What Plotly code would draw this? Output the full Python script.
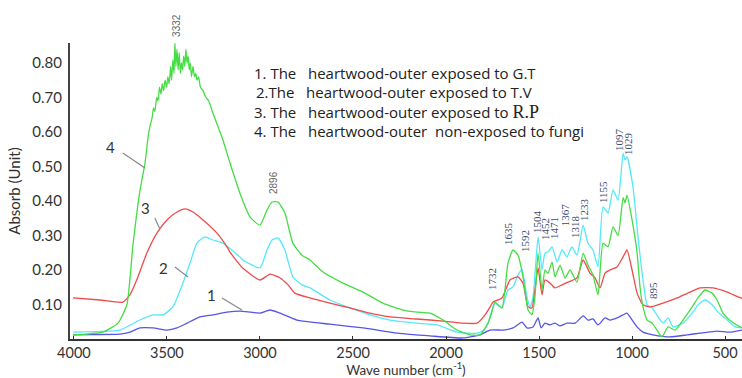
import plotly.graph_objects as go

# ---- data ----
wn_1 = [4005, 3900, 3753, 3699, 3645, 3575, 3500, 3446, 3392, 3323,
        3253, 3177, 3108, 3000, 2946, 2892, 2801, 2624, 2446, 2263,
        2086, 1909, 1817, 1763, 1694, 1640, 1591, 1565, 1532, 1505,
        1489, 1468, 1441, 1414, 1387, 1350, 1306, 1263, 1237, 1210,
        1183, 1145, 1118, 1081, 1048, 1027, 1011, 973, 941, 887,
        796, 704, 634, 543, 473, 409]
abs_1 = [0.012, 0.013, 0.014, 0.020, 0.032, 0.032, 0.026, 0.032, 0.046, 0.064,
         0.070, 0.078, 0.081, 0.075, 0.084, 0.075, 0.055, 0.043, 0.032, 0.017,
         0.009, 0.003, 0.012, 0.026, 0.026, 0.032, 0.049, 0.032, 0.035, 0.061,
         0.032, 0.046, 0.041, 0.046, 0.038, 0.046, 0.046, 0.067, 0.055, 0.058,
         0.041, 0.061, 0.055, 0.061, 0.070, 0.075, 0.064, 0.035, 0.020, 0.012,
         0.006, 0.012, 0.017, 0.023, 0.020, 0.026]

wn_2 = [4005, 3850, 3753, 3645, 3575, 3521, 3468, 3414, 3376, 3339,
        3296, 3253, 3199, 3161, 3108, 3091, 3000, 2962, 2935, 2903,
        2866, 2823, 2774, 2731, 2624, 2516, 2409, 2301, 2156, 2048,
        1941, 1833, 1800, 1775, 1755, 1737, 1699, 1667, 1640, 1613,
        1591, 1565, 1548, 1532, 1505, 1484, 1468, 1452, 1430, 1403,
        1376, 1350, 1323, 1296, 1263, 1237, 1210, 1183, 1156, 1129,
        1102, 1075, 1048, 1038, 1027, 995, 968, 941, 919, 892,
        860, 833, 806, 780, 726, 677, 645, 608, 570, 538,
        489, 446, 409]
abs_2 = [0.020, 0.022, 0.026, 0.055, 0.070, 0.070, 0.093, 0.162, 0.220, 0.278,
         0.296, 0.287, 0.278, 0.262, 0.238, 0.229, 0.206, 0.258, 0.287, 0.293,
         0.258, 0.180, 0.157, 0.148, 0.113, 0.090, 0.070, 0.055, 0.046, 0.041,
         0.020, 0.017, 0.025, 0.045, 0.080, 0.104, 0.090, 0.142, 0.151, 0.186,
         0.200, 0.122, 0.093, 0.122, 0.296, 0.200, 0.249, 0.252, 0.267, 0.223,
         0.258, 0.238, 0.267, 0.243, 0.330, 0.278, 0.258, 0.209, 0.383, 0.365,
         0.432, 0.403, 0.539, 0.519, 0.528, 0.441, 0.296, 0.171, 0.099, 0.090,
         0.064, 0.046, 0.061, 0.035, 0.046, 0.075, 0.099, 0.113, 0.099, 0.078,
         0.055, 0.035, 0.032]

wn_3 = [4005, 3860, 3737, 3699, 3656, 3608, 3554, 3500, 3446, 3403,
        3360, 3306, 3231, 3177, 3161, 3108, 3091, 3000, 2946, 2892,
        2849, 2812, 2731, 2624, 2516, 2409, 2301, 2156, 2016, 1909,
        1833, 1790, 1763, 1747, 1699, 1656, 1613, 1586, 1559, 1538,
        1522, 1505, 1484, 1468, 1441, 1414, 1376, 1344, 1296, 1263,
        1226, 1199, 1172, 1145, 1118, 1081, 1048, 1027, 1000, 973,
        941, 903, 833, 758, 688, 634, 565, 489, 430, 409]
abs_3 = [0.119, 0.113, 0.107, 0.128, 0.180, 0.249, 0.307, 0.345, 0.368, 0.377,
         0.368, 0.345, 0.307, 0.267, 0.252, 0.215, 0.205, 0.171, 0.188, 0.177,
         0.157, 0.133, 0.119, 0.104, 0.090, 0.075, 0.064, 0.058, 0.052, 0.046,
         0.046, 0.070, 0.093, 0.107, 0.119, 0.171, 0.180, 0.162, 0.093, 0.090,
         0.142, 0.206, 0.128, 0.171, 0.162, 0.148, 0.157, 0.165, 0.177, 0.229,
         0.191, 0.177, 0.148, 0.191, 0.200, 0.209, 0.238, 0.258, 0.200, 0.133,
         0.099, 0.093, 0.104, 0.119, 0.136, 0.148, 0.148, 0.136, 0.122, 0.118]

wn_4 = [4005, 3920, 3844, 3763, 3715, 3683, 3645, 3618, 3600, 3590,
        3580, 3572, 3565, 3555, 3548, 3540, 3532, 3525, 3518, 3510,
        3502, 3495, 3488, 3480, 3475, 3468, 3462, 3457, 3452, 3446,
        3440, 3434, 3428, 3422, 3416, 3410, 3404, 3398, 3392, 3386,
        3380, 3374, 3368, 3360, 3352, 3345, 3338, 3330, 3320, 3306,
        3290, 3275, 3253, 3199, 3161, 3108, 3054, 3000, 2962, 2935,
        2903, 2866, 2823, 2774, 2731, 2661, 2554, 2446, 2339, 2231,
        2156, 2086, 2016, 1941, 1871, 1817, 1774, 1755, 1737, 1699,
        1667, 1640, 1613, 1586, 1559, 1538, 1522, 1505, 1484, 1468,
        1452, 1430, 1414, 1387, 1360, 1333, 1296, 1263, 1237, 1210,
        1183, 1156, 1129, 1102, 1075, 1048, 1038, 1027, 1000, 973,
        957, 941, 919, 892, 866, 839, 806, 769, 726, 677,
        645, 608, 570, 543, 511, 462, 419, 409]
abs_4 = [0.012, 0.015, 0.020, 0.046, 0.100, 0.270, 0.430, 0.510, 0.590, 0.620,
         0.640, 0.670, 0.660, 0.700, 0.690, 0.730, 0.710, 0.740, 0.720, 0.750,
         0.730, 0.760, 0.740, 0.790, 0.750, 0.810, 0.770, 0.858, 0.790, 0.840,
         0.780, 0.830, 0.770, 0.800, 0.780, 0.820, 0.790, 0.840, 0.800, 0.820,
         0.780, 0.800, 0.760, 0.790, 0.760, 0.770, 0.750, 0.760, 0.730, 0.720,
         0.700, 0.690, 0.655, 0.577, 0.510, 0.423, 0.354, 0.330, 0.374, 0.397,
         0.397, 0.365, 0.278, 0.243, 0.229, 0.194, 0.162, 0.136, 0.104, 0.084,
         0.078, 0.075, 0.055, 0.026, 0.012, 0.012, 0.046, 0.075, 0.107, 0.090,
         0.220, 0.258, 0.243, 0.180, 0.084, 0.070, 0.122, 0.249, 0.142, 0.200,
         0.190, 0.223, 0.180, 0.214, 0.177, 0.200, 0.165, 0.249, 0.214, 0.186,
         0.128, 0.278, 0.267, 0.325, 0.300, 0.410, 0.395, 0.417, 0.345, 0.250,
         0.150, 0.093, 0.055, 0.046, 0.026, 0.006, 0.035, 0.026, 0.055, 0.093,
         0.120, 0.142, 0.133, 0.113, 0.075, 0.049, 0.035, 0.033]

series_colors = ["#5555e8", "#55e8f8", "#f04a4a", "#44dd44"]

legend_lines = [
    "1. The&nbsp;&nbsp; heartwood-outer exposed to G.T",
    "2.The&nbsp;&nbsp; heartwood-outer exposed to T.V",
    "3. The&nbsp;&nbsp; heartwood-outer exposed to <span style='font-family:Liberation Serif;font-size:18px'>R.P</span>",
    "4. The&nbsp;&nbsp; heartwood-outer&nbsp; non-exposed to fungi",
]

peak_labels = ["3332", "2896", "1732", "1635", "1592", "1504", "1452", "1471",
               "1367", "1318", "1233", "1155", "1097", "1029", "895"]
peak_x = [3452, 2930, 1753, 1667, 1575, 1511, 1468, 1419,
          1360, 1306, 1258, 1156, 1070, 1022, 887]
peak_y = [0.910, 0.455, 0.174, 0.307, 0.284, 0.342, 0.319, 0.322,
          0.359, 0.325, 0.374, 0.426, 0.577, 0.568, 0.139]

x_ticks = [4000, 3500, 3000, 2500, 2000, 1500, 1000, 500]
y_ticks = [0.1, 0.2, 0.3, 0.4, 0.5, 0.6, 0.7, 0.8]
y_top = 0.858

fig = go.Figure()
for wn, ab, col in [(wn_1, abs_1, series_colors[0]), (wn_2, abs_2, series_colors[1]),
                    (wn_3, abs_3, series_colors[2]), (wn_4, abs_4, series_colors[3])]:
    fig.add_trace(go.Scatter(x=wn, y=ab, mode="lines",
                             line=dict(color=col, width=1.3, shape="spline", smoothing=0.5),
                             showlegend=False, hoverinfo="skip"))

annotations = []
legend_y = [0.771, 0.716, 0.658, 0.603]
legend_x = [3043, 3030, 3043, 3043]
for txt, lx, ly in zip(legend_lines, legend_x, legend_y):
    annotations.append(dict(x=lx, y=ly, xref="x", yref="y", text=txt, showarrow=False,
                            xanchor="left", yanchor="middle",
                            font=dict(family="Open Sans", size=15, color="#222")))

for i, (t, px, py) in enumerate(zip(peak_labels, peak_x, peak_y)):
    if i < 2:
        fnt = dict(family="Liberation Sans", size=10, color="#666")
    else:
        fnt = dict(family="Liberation Serif", size=11, color="#3c4a70")
    if py > y_top:
        annotations.append(dict(x=px, y=py / y_top, xref="x", yref="paper", text=t,
                                showarrow=False, textangle=-90, xanchor="center",
                                yanchor="middle", font=fnt))
    else:
        annotations.append(dict(x=px, y=py, xref="x", yref="y", text=t, showarrow=False,
                                textangle=-90, xanchor="center", yanchor="middle", font=fnt))

# curve number labels with leader lines
num_text = ["4", "3", "2", "1"]
num_x = [3806, 3613, 3516, 3258]
num_y = [0.557, 0.380, 0.206, 0.128]
lead_x0 = [3737, 3565, 3457, 3204]
lead_y0 = [0.539, 0.351, 0.209, 0.119]
lead_x1 = [3618, 3538, 3387, 3097]
lead_y1 = [0.496, 0.319, 0.180, 0.084]
shapes = []
for t, nx, ny, a, b, c, d in zip(num_text, num_x, num_y, lead_x0, lead_y0, lead_x1, lead_y1):
    annotations.append(dict(x=nx, y=ny, xref="x", yref="y", text=t, showarrow=False,
                            font=dict(family="Lato", size=15, color="#333")))
    shapes.append(dict(type="line", xref="x", yref="y", x0=a, y0=b, x1=c, y1=d,
                       line=dict(color="#888", width=1.2)))

fig.update_layout(
    width=742, height=378,
    margin=dict(l=70, r=0, t=43, b=39),
    paper_bgcolor="white", plot_bgcolor="white",
    annotations=annotations, shapes=shapes,
    xaxis=dict(range=[4021, 409], tickvals=x_ticks, ticktext=[str(v) for v in x_ticks],
               showgrid=False, zeroline=False, showline=True, linecolor="#333", linewidth=2,
               ticks="inside", ticklen=3, tickcolor="#333",
               tickfont=dict(family="Lato", size=14.5, color="#333"),
               title=dict(text="Wave number (cm<sup>-1</sup>)", standoff=3,
                          font=dict(family="Lato", size=13.5, color="#333"))),
    yaxis=dict(range=[0, y_top], tickvals=y_ticks, tickformat=".2f",
               showgrid=False, zeroline=False, showline=True, linecolor="#444", linewidth=2,
               ticks="", ticklabelstandoff=3,
               tickfont=dict(family="Lato", size=15, color="#333"),
               title=dict(text="Absorb (Unit)", standoff=8,
                          font=dict(family="Lato", size=15, color="#333"))),
)

fig.write_html("out.html")
